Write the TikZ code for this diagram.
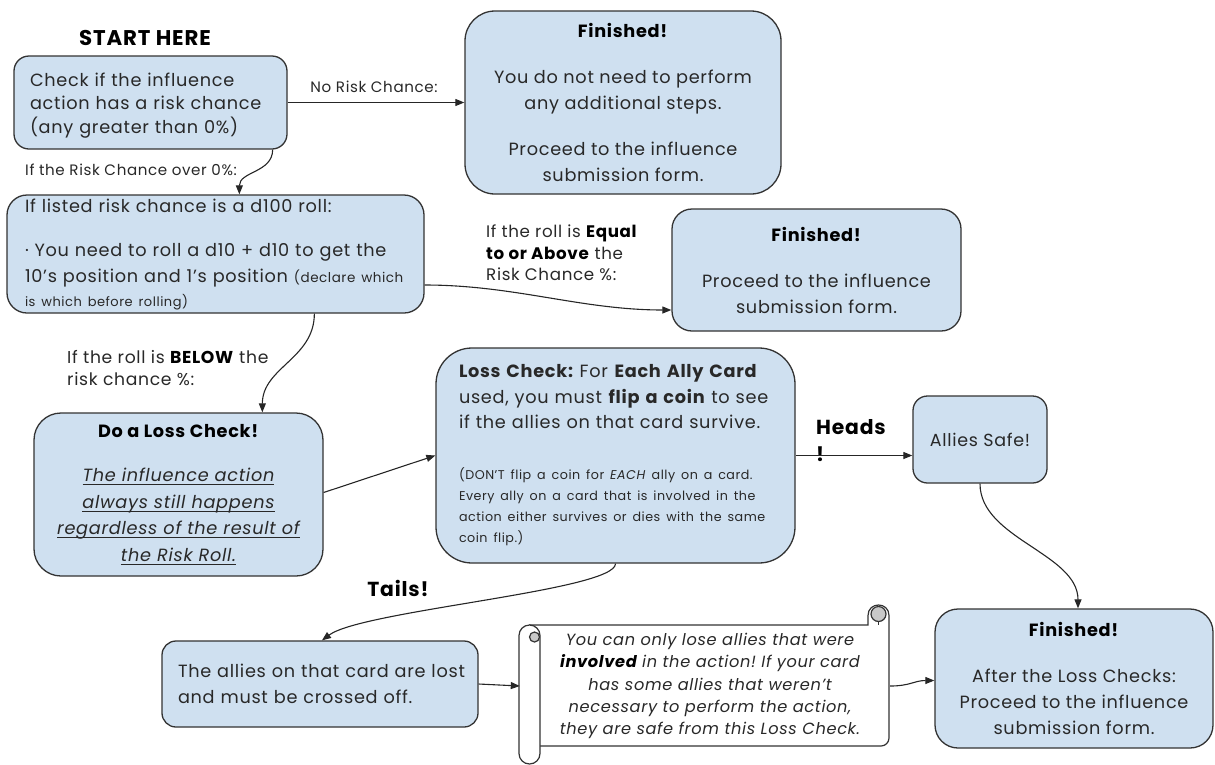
\documentclass[tikz,border=0pt]{standalone}
\usepackage{fontspec}
\setmainfont{Poppins}[LetterSpace=4]
\usetikzlibrary{arrows.meta,calc}
\definecolor{boxfill}{RGB}{207,224,240}
\definecolor{edge}{RGB}{51,51,51}
\definecolor{ink}{RGB}{40,40,40}
\definecolor{curlgray}{RGB}{200,200,200}
\newcommand\myul[1]{\setbox0\hbox{#1}\leavevmode\rlap{\raisebox{-3.4pt}{\rule{\wd0}{0.9pt}}}\box0}
\frenchspacing
\begin{document}
\frenchspacing
\begin{tikzpicture}[x=1pt,y=-1pt,
  box/.style={draw=edge, fill=boxfill, line width=1.3pt, text=ink, inner sep=0pt},
  conn/.style={draw=black!85, line width=1.1pt, -{Triangle[length=9pt,width=7pt]}},
  lbl/.style={text=ink, inner sep=0pt, align=left},
  scrollline/.style={draw=edge, line width=1.2pt},
  every node/.append style={execute at begin node=\frenchspacing},
]
\useasboundingbox (0,0) rectangle (1215,764);

% heading
\node[inner sep=0pt, font=\fontsize{21.3}{24}\selectfont\bfseries] (head) at (145,38) {START HERE};

% boxes
\node[box, minimum width=273pt, minimum height=93pt, rounded corners=15pt,
      text width=241pt, align=left, font=\fontsize{17.7}{23.5}\selectfont] (start) at (150.5,102.5)
 {\mbox{\rule{0pt}{19pt}Check if the influence}\\\mbox{action has a risk chance}\\\mbox{(any greater than 0\%)}};

\node[box, minimum width=316pt, minimum height=183pt, rounded corners=30pt,
      align=center, font=\fontsize{17.7}{26}\selectfont] (fin1) at (623,102.5)
 {\textcolor{black}{\textbf{Finished!}}\\[20pt]You do not need to perform\\any additional steps.\\[20pt]Proceed to the influence\\submission form.};

\node[box, minimum width=417pt, minimum height=118pt, rounded corners=20pt,
      text width=381pt, align=left, font=\fontsize{17.7}{26}\selectfont] (d100) at (215.5,254)
 {\mbox{If listed risk chance is a d100 roll:}\\[18pt]\mbox{· You need to roll a d10 + d10 to get the}\\\mbox{10’s position and 1’s position {\fontsize{13.5}{16}\selectfont(declare which}}\\[-2pt]\mbox{\fontsize{13}{16}\selectfont is which before rolling)}};

\node[box, minimum width=289pt, minimum height=122pt, rounded corners=20pt,
      align=center, font=\fontsize{17.7}{26}\selectfont] (fin2) at (816.5,270)
 {\textcolor{black}{\textbf{Finished!}}\\[20pt]Proceed to the influence\\submission form.};

\node[box, minimum width=289pt, minimum height=163pt, rounded corners=27pt,
      align=center, font=\fontsize{17.7}{26.5}\selectfont] (loss) at (178.5,494.5)
 {\textcolor{black}{\textbf{Do a Loss Check!}}\\[18pt]\myul{\itshape The influence action}\\\myul{\itshape always still happens}\\\myul{\itshape regardless of the result of}\\\myul{\itshape the Risk Roll.}};

\node[box, minimum width=359pt, minimum height=215pt, rounded corners=36pt,
      text width=313pt, align=left, font=\fontsize{17.7}{25.5}\selectfont] (coin) at (615.5,455.5)
 {\mbox{\textbf{Loss Check:} For \textbf{Each Ally Card}}\\\mbox{used, you must \textbf{flip a coin} to see}\\\mbox{if the allies on that card survive.}\par\vspace{30pt}%
  {\fontsize{12.7}{21}\selectfont \mbox{(DON’T flip a coin for \textit{EACH} ally on a card.}\\\mbox{Every ally on a card that is involved in the}\\\mbox{action either survives or dies with the same}\\\mbox{coin flip.)}\par}};

\node[box, minimum width=134pt, minimum height=87pt, rounded corners=14.5pt,
      align=center, font=\fontsize{17.5}{20}\selectfont] (safe) at (980,439.5) {Allies Safe!};

\node[box, minimum width=316pt, minimum height=86pt, rounded corners=14pt,
      text width=284pt, align=left, font=\fontsize{17.7}{26}\selectfont] (lost) at (320,684)
 {\mbox{The allies on that card are lost}\\\mbox{and must be crossed off.}};

\node[box, minimum width=278pt, minimum height=139pt, rounded corners=23pt,
      align=center, font=\fontsize{17.7}{26}\selectfont] (fin3) at (1074,678.5)
 {\textcolor{black}{\textbf{Finished!}}\\[20pt]After the Loss Checks:\\Proceed to the influence\\submission form.};

% scroll shape
\draw[scrollline, fill=white] (529.5,625) -- (868,625) -- (868,615.5)
  .. controls (868,601.5) and (889,601.5) .. (889,615.5) -- (889,738)
  .. controls (889,742.4) and (885.4,746) .. (881,746) -- (529.5,746) -- cycle;
\draw[scrollline, fill=curlgray] (878.5,614) circle (7.5);
\draw[scrollline] (878.5,621.5) -- (878.5,625);
\draw[scrollline, fill=white, rounded corners=10.5pt] (519,625) rectangle (540,764);
\draw[scrollline, fill=curlgray] (534.5,637) circle (5);
\node[inner sep=0pt, minimum width=380pt, minimum height=159pt, text=ink,
      align=center, font=\fontsize{16.2}{22.3}\selectfont\itshape] (scroll) at (710,686)
 {You can only lose allies that were\\\textcolor{black}{\textbf{involved}} in the action! If your card\\has some allies that weren’t\\necessary to perform the action,\\they are safe from this Loss Check.};

% labels
\node[lbl, font=\fontsize{15.1}{20}\selectfont] (lnorisk) at (374,87) {No Risk Chance:};
\node[lbl, anchor=west, font=\fontsize{15.1}{20}\selectfont] (lover) at (25,170) {If the Risk Chance over 0\%:};
\node[lbl, anchor=west, font=\fontsize{16.7}{21.5}\selectfont] (lequal) at (486,253) {If the roll is \textcolor{black}{\textbf{Equal}}\\\textcolor{black}{\textbf{to or Above}} the\\Risk Chance \%:};
\node[lbl, anchor=west, font=\fontsize{17.2}{22}\selectfont] (lbelow) at (67,368) {If the roll is \textcolor{black}{\textbf{BELOW}} the\\risk chance \%:};
\node[inner sep=0pt, anchor=west, align=left, font=\fontsize{20.3}{27}\selectfont\bfseries] (lheads) at (816,441) {Heads\\!};
\node[inner sep=0pt, font=\fontsize{20.3}{27}\selectfont\bfseries] (ltails) at (398,588) {Tails!};

% connectors
\draw[conn] (start.east) -- (start.east -| fin1.west);
\draw[conn] ([xshift=-15pt]start.south east) .. controls +(0,23) and +(0,-23) .. ([xshift=233pt]d100.north west);
\draw[conn] ([yshift=-31pt]d100.east) .. controls +(90,0) and +(-90,0) .. ([yshift=-40pt]fin2.west);
\draw[conn] ([xshift=308pt]d100.south west) .. controls +(0,45) and +(0,-45) .. ([xshift=229pt]loss.north west);
\draw[conn] ([yshift=2pt]loss.east) -- (coin.west);
\draw[conn] (coin.east) -- (coin.east -| safe.west);
\draw[conn] (safe.south) .. controls +(0,55) and +(0,-55) .. ([xshift=4pt]fin3.north);
\draw[conn] (coin.south) .. controls +(0,27) and +(40,-30) .. ([xshift=2pt]lost.north);
\draw[conn] (lost.east) -- (scroll.west);
\draw[conn] ([xshift=-10pt]scroll.east) .. controls +(20,0) and +(-20,0) .. ([yshift=-2pt]fin3.west);
\end{tikzpicture}
\end{document}
